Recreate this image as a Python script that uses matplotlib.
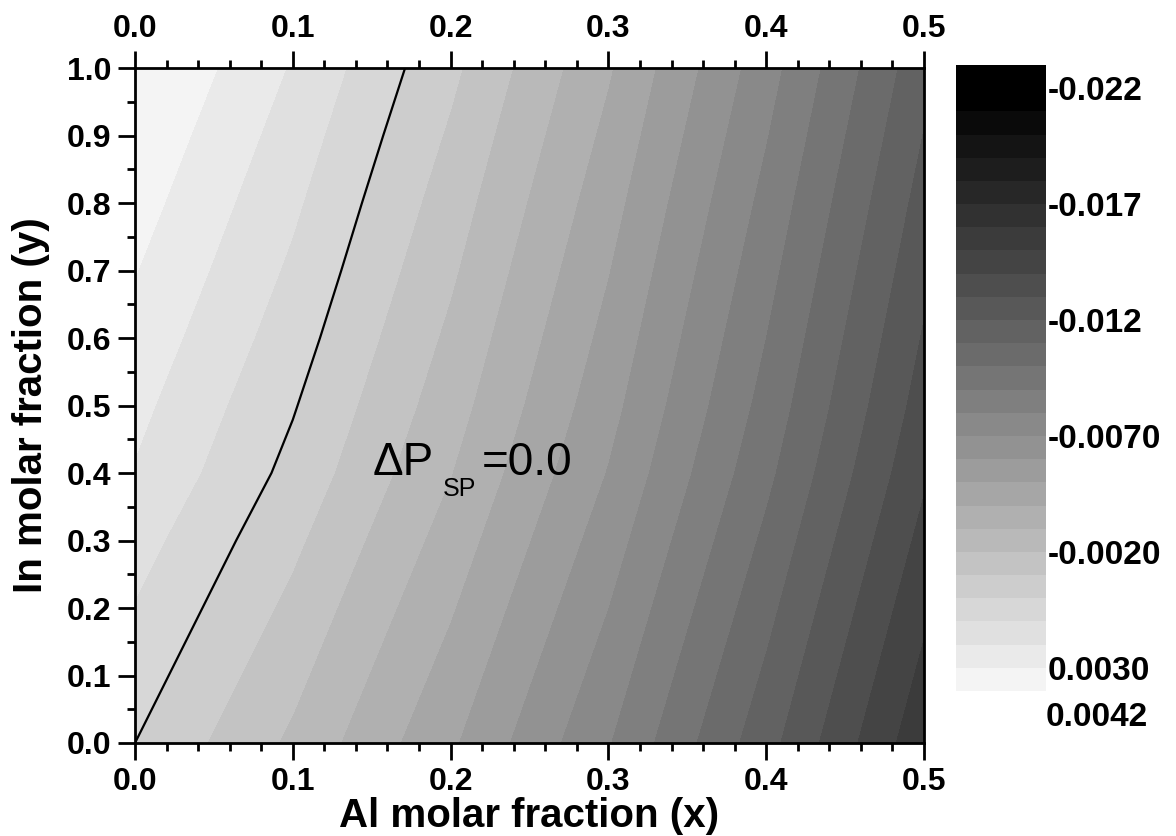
import numpy as np
import matplotlib
matplotlib.use("Agg")
import matplotlib.pyplot as plt
from matplotlib.colors import ListedColormap, BoundaryNorm
from matplotlib.ticker import MultipleLocator, FormatStrFormatter

# grid of the map (Al fraction x, In fraction y)
x_al = [0.0, 0.1, 0.2, 0.3, 0.4, 0.5]
y_in = [0.0, 0.1, 0.2, 0.3, 0.4, 0.5, 0.6, 0.7, 0.8, 0.9, 1.0]

# delta P_SP, one row per y value
dp_sp = [
    [0.00000, -0.00220, -0.00485, -0.00795, -0.01165, -0.01575],
    [0.00047, -0.00173, -0.00438, -0.00748, -0.01118, -0.01528],
    [0.00094, -0.00126, -0.00391, -0.00701, -0.01071, -0.01481],
    [0.00141, -0.00079, -0.00344, -0.00654, -0.01024, -0.01434],
    [0.00192, -0.00030, -0.00297, -0.00607, -0.00977, -0.01387],
    [0.00228, 0.00008, -0.00257, -0.00567, -0.00937, -0.01347],
    [0.00266, 0.00046, -0.00221, -0.00532, -0.00902, -0.01312],
    [0.00304, 0.00082, -0.00185, -0.00497, -0.00867, -0.01277],
    [0.00342, 0.00117, -0.00150, -0.00462, -0.00832, -0.01242],
    [0.00380, 0.00153, -0.00114, -0.00426, -0.00796, -0.01206],
    [0.00420, 0.00190, -0.00077, -0.00390, -0.00760, -0.01170],
]

# contour levels of the colour scale
levels = [-0.023, -0.022, -0.021, -0.020, -0.019, -0.018, -0.017, -0.016,
          -0.015, -0.014, -0.013, -0.012, -0.011, -0.010, -0.009, -0.008,
          -0.007, -0.006, -0.005, -0.004, -0.003, -0.002, -0.001, 0.000,
          0.001, 0.002, 0.003, 0.0042]
cbar_ticks = [-0.022, -0.017, -0.012, -0.007, -0.002, 0.003]
cbar_labels = ["-0.022", "-0.017", "-0.012", "-0.0070", "-0.0020", "0.0030"]
cbar_max_label = "0.0042"

plt.rcParams['font.family'] = ['Liberation Sans', 'DejaVu Sans']
plt.rcParams['font.weight'] = 'bold'

n_band = len(levels) - 1
grays = np.concatenate([[0.0], np.linspace(0, 244, n_band - 1)]) / 255.0
cmap = ListedColormap([(g, g, g) for g in grays])
norm = BoundaryNorm(levels, n_band)

fig = plt.figure(figsize=(11.76, 8.36), dpi=100)
ax = fig.add_axes([135 / 1176, 93 / 836, 789 / 1176, 675 / 836])
cax = fig.add_axes([956 / 1176, 145 / 836, 90 / 1176, 626 / 836])

X, Y = np.meshgrid(x_al, y_in)
Z = np.array(dp_sp)
cs = ax.contourf(X, Y, Z, levels=levels, cmap=cmap, norm=norm, antialiased=False)
ax.contour(X, Y, Z, levels=[0.0], colors='k', linewidths=1.6)

ax.set_xlim(0, 0.5)
ax.set_ylim(0, 1.0)
ax.xaxis.set_major_locator(MultipleLocator(0.1))
ax.xaxis.set_minor_locator(MultipleLocator(0.02))
ax.yaxis.set_major_locator(MultipleLocator(0.1))
ax.yaxis.set_minor_locator(MultipleLocator(0.05))
ax.xaxis.set_major_formatter(FormatStrFormatter('%.1f'))
ax.yaxis.set_major_formatter(FormatStrFormatter('%.1f'))
ax.tick_params(which='both', direction='out', width=2, top=True, labeltop=True,
               right=False, labelsize=23, pad=5)
ax.tick_params(which='major', length=12)
ax.tick_params(which='minor', length=6)
for s in ax.spines.values():
    s.set_linewidth(2)

ax.set_xlabel("Al molar fraction (x)", fontsize=29, fontweight='bold', labelpad=0)
ax.set_ylabel("In molar fraction (y)", fontsize=29, fontweight='bold', labelpad=12)

# Delta P_SP = 0.0 label, built from three pieces like the original
ax.text(0.1508, 0.397, "ΔP", fontsize=33, fontweight='normal',
        ha='left', va='baseline')
ax.text(0.1952, 0.366, "SP", fontsize=18, fontweight='normal',
        ha='left', va='baseline')
ax.text(0.2199, 0.397, "=0.0", fontsize=33, fontweight='normal',
        ha='left', va='baseline')

cb = fig.colorbar(cs, cax=cax)
cax.invert_yaxis()
cax.minorticks_off()
cb.outline.set_visible(False)
cb.set_ticks(cbar_ticks)
cb.set_ticklabels(cbar_labels)
cax.tick_params(which='both', length=0, pad=1, labelsize=24)
cax.text(1.0, -0.042, cbar_max_label, transform=cax.transAxes, fontsize=24,
         fontweight='bold', ha='left', va='center')

fig.savefig("out.png", dpi=100)
